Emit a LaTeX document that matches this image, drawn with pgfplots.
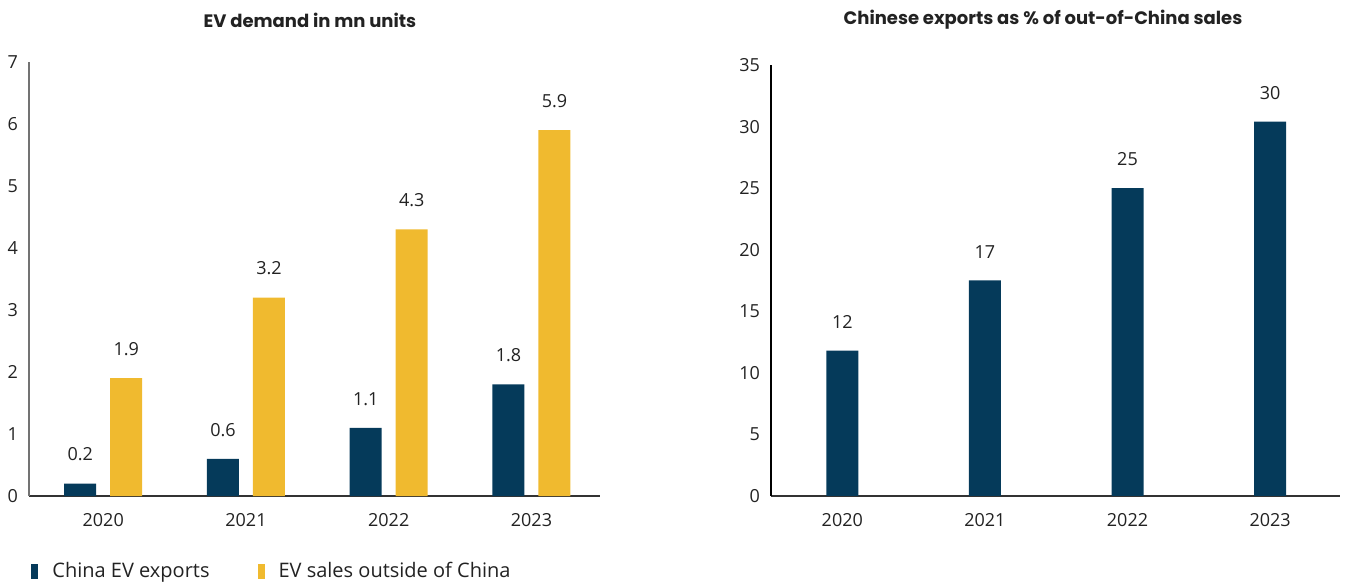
\documentclass[border=0pt]{standalone}
\usepackage{pgfplots}
\pgfplotsset{compat=1.18}
\usepackage{fontspec}
\setmainfont{Open Sans}
\newfontfamily\titlefont{Poppins}
\definecolor{navy}{HTML}{053A5A}
\definecolor{gold}{HTML}{F0BA2F}
\definecolor{txt}{HTML}{222222}
\begin{document}
\begin{tikzpicture}
\useasboundingbox (0,0) rectangle (673.5pt,291.5pt);
\pgfplotsset{
 every axis title shift=0pt,
 myax/.style={
  scale only axis, anchor=south west,
  axis x line=bottom, axis y line=left,
  axis line style={-, line width=0.6pt},
  major tick length=0pt,
  xtick=data, xticklabels={2020,2021,2022,2023},
  xmin=-0.52, xmax=3.48, ymin=0,
  ybar,
  tick label style={font=\fontsize{9}{11}\selectfont, text=txt},
  /pgf/number format/assume math mode=true,
  yticklabel style={xshift=-2pt},
  xticklabel style={yshift=-5pt},
  nodes near coords,
  every node near coord/.append style={font=\fontsize{9}{11}\selectfont, text=txt, inner sep=0pt, anchor=south, yshift=11pt},
  title style={font=\titlefont\bfseries\fontsize{9}{11}\selectfont, text=txt, anchor=center},
 }
}
\begin{axis}[myax,
  at={(14.5pt,43.5pt)}, width=285.5pt, height=217pt,
  ymax=7, ytick={0,1,...,7},
  bar width=16pt, ybar=7pt,
  title={EV demand in mn units}, title style={at={(0.492,1.097)}, anchor=center},
  y axis line style={color=black!55},
  x axis line style={color=black!80},
  legend style={at={(0.0035,-0.173)}, anchor=west, draw=none, fill=none,
    font=\fontsize{10}{12}\selectfont, text=txt, inner sep=0pt,
    /tikz/every even column/.append style={column sep=22pt},
    /tikz/every odd column/.append style={column sep=5pt}},
  legend columns=2,
  legend image code/.code={\fill[#1, draw=none] (0pt,-3.75pt) rectangle (3.5pt,3.75pt);},
]
\addplot[fill=navy, draw=none] coordinates {(0,0.2) (1,0.6) (2,1.1) (3,1.8)};
\addplot[fill=gold, draw=none] coordinates {(0,1.9) (1,3.2) (2,4.3) (3,5.9)};
\legend{China EV exports, EV sales outside of China}
\end{axis}
\begin{axis}[myax,
  at={(385.5pt,43.5pt)}, width=284.5pt, height=215.5pt,
  xmin=-0.5, xmax=3.49,
  ymax=35, ytick={0,5,...,35},
  bar width=16pt,
  title={Chinese exports as \% of out-of-China sales}, title style={at={(0.478,1.104)}, anchor=center},
  y axis line style={color=black},
  x axis line style={color=black!80},
  point meta=explicit symbolic,
]
\addplot[fill=navy, draw=none] coordinates {(0,11.8) [12] (1,17.5) [17] (2,25) [25] (3,30.4) [30]};
\end{axis}
\end{tikzpicture}
\end{document}
